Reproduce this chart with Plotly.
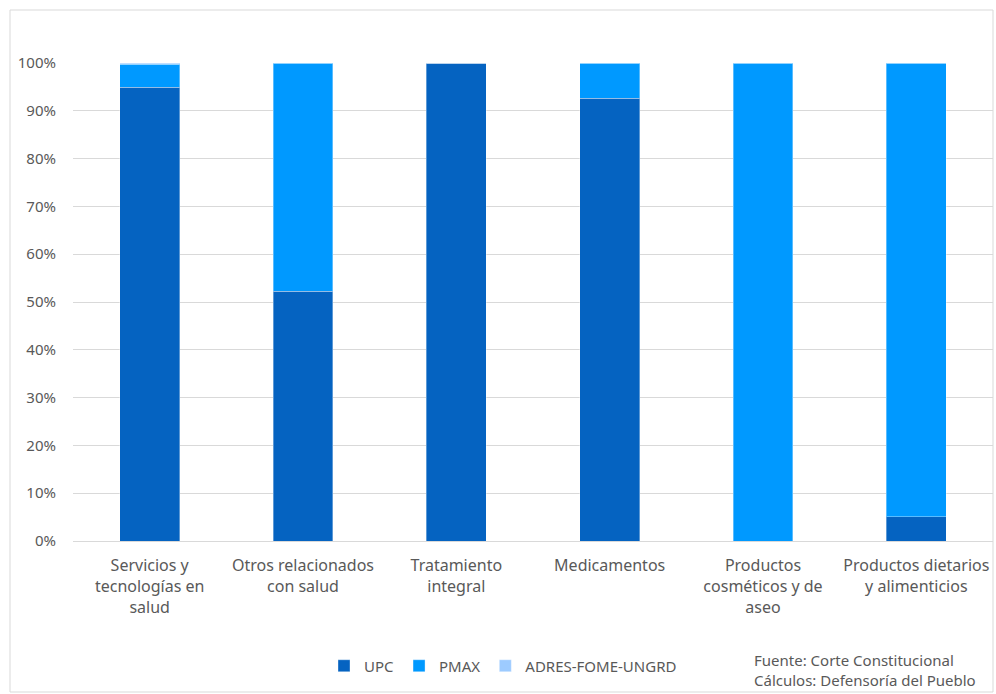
import plotly.graph_objects as go

categories = [
    "Servicios y<br>tecnologías en<br>salud",
    "Otros relacionados<br>con salud",
    "Tratamiento<br>integral",
    "Medicamentos",
    "Productos<br>cosméticos y de<br>aseo",
    "Productos dietarios<br>y alimenticios",
]
upc = [0.949, 0.522, 1.0, 0.926, 0.0, 0.051]
pmax = [0.048, 0.478, 0.0, 0.074, 1.0, 0.949]
adres = [0.003, 0.0, 0.0, 0.0, 0.0, 0.0]

series_names = ["UPC", "PMAX", "ADRES-FOME-UNGRD"]
series_colors = ["#0563C1", "#0099FF", "#9DCBFF"]

FONT = "Noto Sans"
GRAY = "#595959"

fig = go.Figure()
for name, vals, col in zip(series_names, [upc, pmax, adres], series_colors):
    fig.add_trace(go.Bar(
        x=categories, y=vals, name=name,
        marker=dict(color=col, line=dict(color="rgba(255,255,255,0.35)", width=1)),
    ))

L, R, T, B = 73, 3, 63, 153
W, H = 996, 694
pw = W - L - R
ph = H - T - B

def px(x):
    return (x - L) / pw

def py(y):
    return (H - B - y) / ph

fig.update_layout(
    width=W, height=H,
    barmode="stack", bargap=0.61,
    margin=dict(l=L, r=R, t=T, b=B),
    plot_bgcolor="white", paper_bgcolor="white",
    font=dict(family=FONT, size=15, color=GRAY),
    showlegend=True,
    legend=dict(orientation="h", x=px(503), xanchor="center", y=py(666), yanchor="middle",
                font=dict(family=FONT, size=15, color=GRAY), traceorder="normal",
                itemwidth=30),
    xaxis=dict(showline=False, ticks="", tickfont=dict(size=16, color=GRAY), tickangle=0,
               ticklabelstandoff=13),
    yaxis=dict(range=[0, 1], tickformat=".0%", dtick=0.1, showgrid=True, gridcolor="#D9D9D9",
               gridwidth=1, zeroline=True, zerolinecolor="#D9D9D9", zerolinewidth=1,
               tickfont=dict(size=15, color=GRAY), ticks="", ticklabelstandoff=16),
    shapes=[dict(type="rect", xref="paper", yref="paper",
                 x0=px(10), x1=px(993), y0=py(692), y1=py(10),
                 line=dict(color="#D9D9D9", width=1), fillcolor="rgba(0,0,0,0)", layer="below")],
    annotations=[dict(text="Fuente: Corte Constitucional<br>Cálculos: Defensoría del Pueblo",
                      xref="paper", yref="paper", x=px(752), y=py(670), xanchor="left",
                      yanchor="middle", align="left", showarrow=False,
                      font=dict(family=FONT, size=15, color=GRAY))],
)

fig.write_html("out.html")
